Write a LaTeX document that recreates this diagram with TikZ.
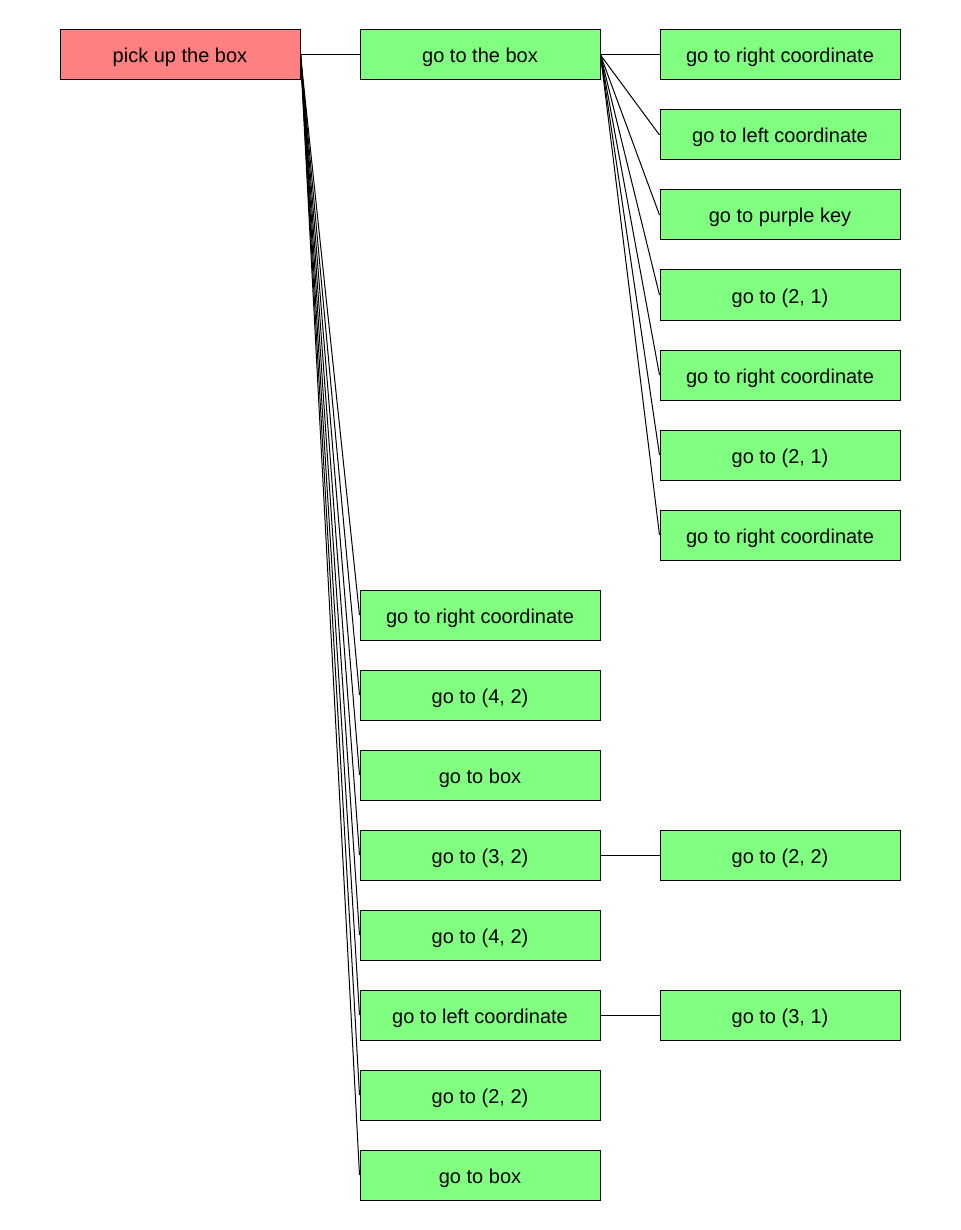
\documentclass[tikz,border=0pt]{standalone}
\usepackage{fontspec}
\setmainfont{Liberation Sans}
\definecolor{boxgreen}{HTML}{80FF80}
\definecolor{boxred}{HTML}{FF8080}
\tikzset{
  taskbox/.style={draw=black, line width=1pt, minimum width=240pt, minimum height=50pt,
    inner sep=0pt, text height=16pt, text depth=0pt, font=\fontsize{20}{24}\selectfont, text=black},
  leaf/.style={taskbox, fill=boxgreen},
  rootbox/.style={taskbox, fill=boxred},
  link/.style={draw=black, line width=1pt}
}
\begin{document}
\begin{tikzpicture}[x=1pt,y=-1pt]
\useasboundingbox (0,0) rectangle (960,1230);
\node[rootbox] (r) at (180,55) {pick up the box};
\node[leaf] (a) at (480,55) {go to the box};
\node[leaf] (a1) at (780,55) {go to right coordinate};
\node[leaf] (a2) at (780,135) {go to left coordinate};
\node[leaf] (a3) at (780,215) {go to purple key};
\node[leaf] (a4) at (780,295) {go to (2, 1)};
\node[leaf] (a5) at (780,375) {go to right coordinate};
\node[leaf] (a6) at (780,455) {go to (2, 1)};
\node[leaf] (a7) at (780,535) {go to right coordinate};
\node[leaf] (b) at (480,615) {go to right coordinate};
\node[leaf] (c) at (480,695) {go to (4, 2)};
\node[leaf] (d) at (480,775) {go to box};
\node[leaf] (e) at (480,855) {go to (3, 2)};
\node[leaf] (e1) at (780,855) {go to (2, 2)};
\node[leaf] (f) at (480,935) {go to (4, 2)};
\node[leaf] (g) at (480,1015) {go to left coordinate};
\node[leaf] (g1) at (780,1015) {go to (3, 1)};
\node[leaf] (h) at (480,1095) {go to (2, 2)};
\node[leaf] (i) at (480,1175) {go to box};
\foreach \n in {a,b,c,d,e,f,g,h,i} \draw[link] (r.east) -- (\n.west);
\foreach \n in {a1,a2,a3,a4,a5,a6,a7} \draw[link] (a.east) -- (\n.west);
\draw[link] (e.east) -- (e1.west);
\draw[link] (g.east) -- (g1.west);
\end{tikzpicture}
\end{document}
